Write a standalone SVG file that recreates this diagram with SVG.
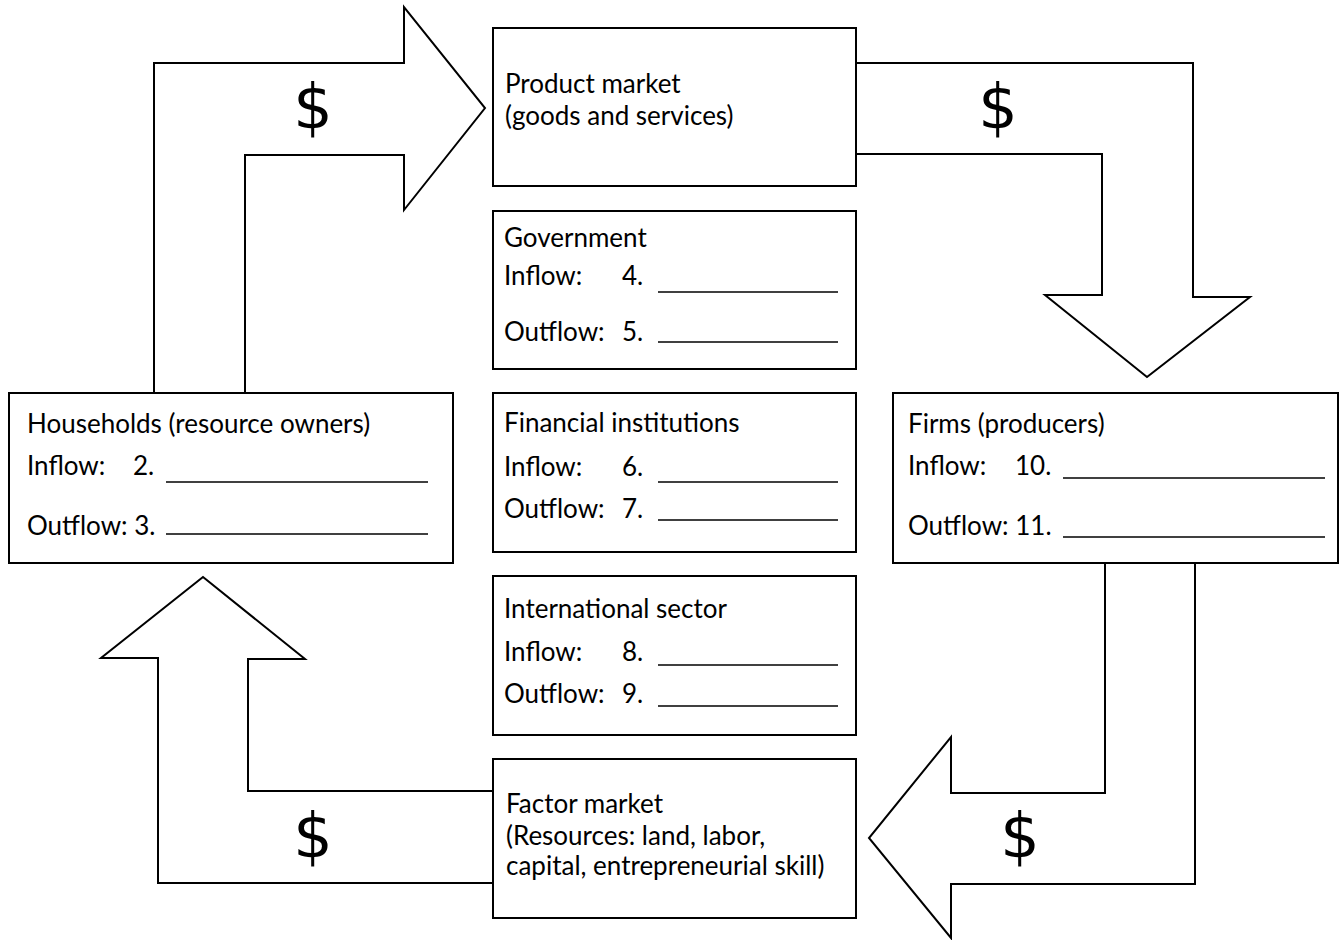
<svg xmlns="http://www.w3.org/2000/svg" width="1341" height="940" viewBox="0 0 1341 940">
<style>
.box{fill:#fff;stroke:#000;stroke-width:2}
.arrow{fill:none;stroke:#000;stroke-width:2;stroke-linejoin:miter}
.t{font-family:Lato,"Liberation Sans",sans-serif;font-size:26px;fill:#000}
.d{font-family:"DejaVu Sans",sans-serif;font-size:62px;fill:#000;text-anchor:middle}
.u{stroke:#000;stroke-width:1.5}
</style>
<rect width="1341" height="940" fill="#fff"/>
<g id="connectors">
<polyline class="arrow" points="154,393 154,63 404,63 404,7 485,108 404,210 404,155 245,155 245,393"/>
<polyline class="arrow" points="856,63 1193,63 1193,297 1250,297 1147,377 1045,295 1102,295 1102,154 856,154"/>
<polyline class="arrow" points="1105,563 1105,793 951,793 951,737 869,838 951,938 951,884 1195,884 1195,563"/>
<polyline class="arrow" points="493,883 158,883 158,658 101,658 203,577 305,659 248,659 248,791 493,791"/>
<text class="d" x="313" y="128">$</text>
<text class="d" x="998" y="128">$</text>
<text class="d" x="1020" y="857">$</text>
<text class="d" x="313" y="857">$</text>
</g>
<g id="product-market">
<rect class="box" x="493" y="28" width="363" height="158"/>
<text class="t" x="505" y="93">Product market</text>
<text class="t" x="505" y="125">(goods and services)</text>
</g>
<g id="government">
<rect class="box" x="493" y="211" width="363" height="158"/>
<text class="t" x="504" y="247">Government</text>
<text class="t" x="504" y="285">Inflow:</text>
<text class="t" x="622" y="285">4.</text>
<line class="u" x1="658" y1="292" x2="838" y2="292"/>
<text class="t" x="504" y="341">Outflow:</text>
<text class="t" x="622" y="341">5.</text>
<line class="u" x1="658" y1="342" x2="838" y2="342"/>
</g>
<g id="financial-institutions">
<rect class="box" x="493" y="393" width="363" height="159"/>
<text class="t" x="504" y="432">Financial institutions</text>
<text class="t" x="504" y="476">Inflow:</text>
<text class="t" x="622" y="476">6.</text>
<line class="u" x1="658" y1="482" x2="838" y2="482"/>
<text class="t" x="504" y="518">Outflow:</text>
<text class="t" x="622" y="518">7.</text>
<line class="u" x1="658" y1="520" x2="838" y2="520"/>
</g>
<g id="international-sector">
<rect class="box" x="493" y="576" width="363" height="159"/>
<text class="t" x="504" y="618">International sector</text>
<text class="t" x="504" y="661">Inflow:</text>
<text class="t" x="622" y="661">8.</text>
<line class="u" x1="658" y1="665" x2="838" y2="665"/>
<text class="t" x="504" y="703">Outflow:</text>
<text class="t" x="622" y="703">9.</text>
<line class="u" x1="658" y1="706" x2="838" y2="706"/>
</g>
<g id="factor-market">
<rect class="box" x="493" y="759" width="363" height="159"/>
<text class="t" x="506" y="813">Factor market</text>
<text class="t" x="506" y="845">(Resources: land, labor,</text>
<text class="t" x="506" y="875">capital, entrepreneurial skill)</text>
</g>
<g id="households">
<rect class="box" x="9" y="393" width="444" height="170"/>
<text class="t" x="27" y="433">Households (resource owners)</text>
<text class="t" x="27" y="475">Inflow:</text>
<text class="t" x="133" y="475">2.</text>
<line class="u" x1="166" y1="482" x2="428" y2="482"/>
<text class="t" x="27" y="535">Outflow: 3.</text>
<line class="u" x1="166" y1="534" x2="428" y2="534"/>
</g>
<g id="firms">
<rect class="box" x="893" y="393" width="445" height="170"/>
<text class="t" x="908" y="433">Firms (producers)</text>
<text class="t" x="908" y="475">Inflow:</text>
<text class="t" x="1015" y="475">10.</text>
<line class="u" x1="1063" y1="478" x2="1325" y2="478"/>
<text class="t" x="908" y="535">Outflow: 11.</text>
<line class="u" x1="1063" y1="537" x2="1325" y2="537"/>
</g>
</svg>
